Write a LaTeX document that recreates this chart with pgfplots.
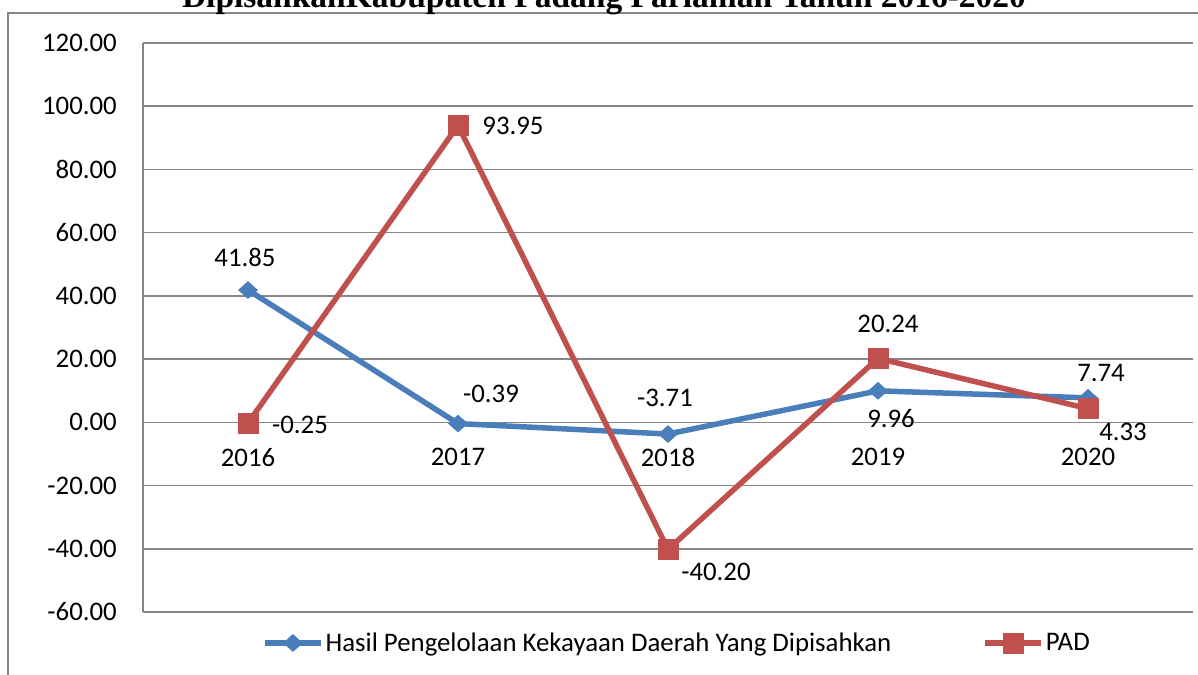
\documentclass[border=0pt]{standalone}
\usepackage{fontspec}
\setmainfont{Carlito}
\newfontfamily\titlefont{Liberation Serif}
\usepackage{pgfplots}
\pgfplotsset{compat=1.18}
\definecolor{cblue}{RGB}{74,126,187}
\definecolor{cred}{RGB}{192,80,77}
\definecolor{cgrid}{RGB}{134,134,134}
\newcommand{\lf}{\fontsize{26.8bp}{31bp}\selectfont}
\begin{document}
\begin{tikzpicture}[x=1bp,y=1bp,font=\lf]
\useasboundingbox (0,0) rectangle (1198,675);
\draw[cgrid, line width=1.5bp] (8,-10) -- (8,662) -- (1210,662);
\node[font=\titlefont\bfseries\fontsize{33.5bp}{38bp}\selectfont, anchor=base, inner sep=0pt] at (604,667.5) {DipisahkanKabupaten Padang Pariaman Tahun 2016-2020};
\begin{axis}[
  at={(143bp,63bp)}, anchor=south west, scale only axis,
  width=1050bp, height=569bp,
  xmin=-0.5, xmax=4.5, ymin=-60, ymax=120, ytick distance=20,
  xtick=\empty,
  axis x line*=bottom, axis y line*=left,
  axis line style={cgrid, line width=1.5bp},
  ymajorgrids, grid style={cgrid, line width=1.5bp},
  major tick length=0pt,
  y tick label style={font=\lf, /pgf/number format/fixed, /pgf/number format/fixed zerofill, /pgf/number format/precision=2, /pgf/number format/assume math mode=true, inner sep=0pt, xshift=-26bp},
  legend columns=2,
  legend image code/.code={\draw[mark repeat=2,mark phase=2] plot coordinates {(0bp,0bp)(28bp,0bp)(56bp,0bp)};},
  legend style={at={(0.1133,-0.0545)}, anchor=west, draw=none, fill=none, font=\lf, inner sep=0pt, /tikz/every even column/.append style={column sep=89bp}},
  clip=false,
]
\addplot[cblue, line width=5.5bp, line join=round, mark=diamond*, mark size=8.5bp, mark options={solid, xscale=1.5, fill=cblue, draw=cblue, line width=0.5bp}] coordinates {(0,41.85)(1,-0.39)(2,-3.71)(3,9.96)(4,7.74)};
\addlegendentry{Hasil Pengelolaan Kekayaan Daerah Yang Dipisahkan}
\addplot[cred, line width=5.5bp, line join=round, mark=square*, mark size=10bp, mark options={solid, fill=cred, draw=cred, line width=0.5bp}] coordinates {(0,-0.25)(1,93.95)(2,-40.20)(3,20.24)(4,4.33)};
\addlegendentry{PAD}
% category labels
\node at (axis cs:0,0) [yshift=-35bp] {2016};
\node at (axis cs:1,0) [yshift=-35bp] {2017};
\node at (axis cs:2,0) [yshift=-35bp] {2018};
\node at (axis cs:3,0) [yshift=-35bp] {2019};
\node at (axis cs:4,0) [yshift=-35bp] {2020};
% blue labels
\node at (axis cs:0,41.85) [xshift=-3bp, yshift=33bp] {41.85};
\node at (axis cs:1,-0.39) [xshift=33bp, yshift=30bp] {-0.39};
\node at (axis cs:2,-3.71) [xshift=-3bp, yshift=36bp] {-3.71};
\node at (axis cs:3,9.96) [xshift=13bp, yshift=-28bp] {9.96};
\node at (axis cs:4,7.74) [xshift=13bp, yshift=25bp] {7.74};
% red labels
\node at (axis cs:0,-0.25) [xshift=52bp, yshift=-2bp] {-0.25};
\node at (axis cs:1,93.95) [xshift=55bp, yshift=-1bp] {93.95};
\node at (axis cs:2,-40.20) [xshift=48bp, yshift=-23bp] {-40.20};
\node at (axis cs:3,20.24) [xshift=10bp, yshift=34bp] {20.24};
\node at (axis cs:4,4.33) [xshift=35bp, yshift=-23bp] {4.33};
\end{axis}
\end{tikzpicture}
\end{document}
